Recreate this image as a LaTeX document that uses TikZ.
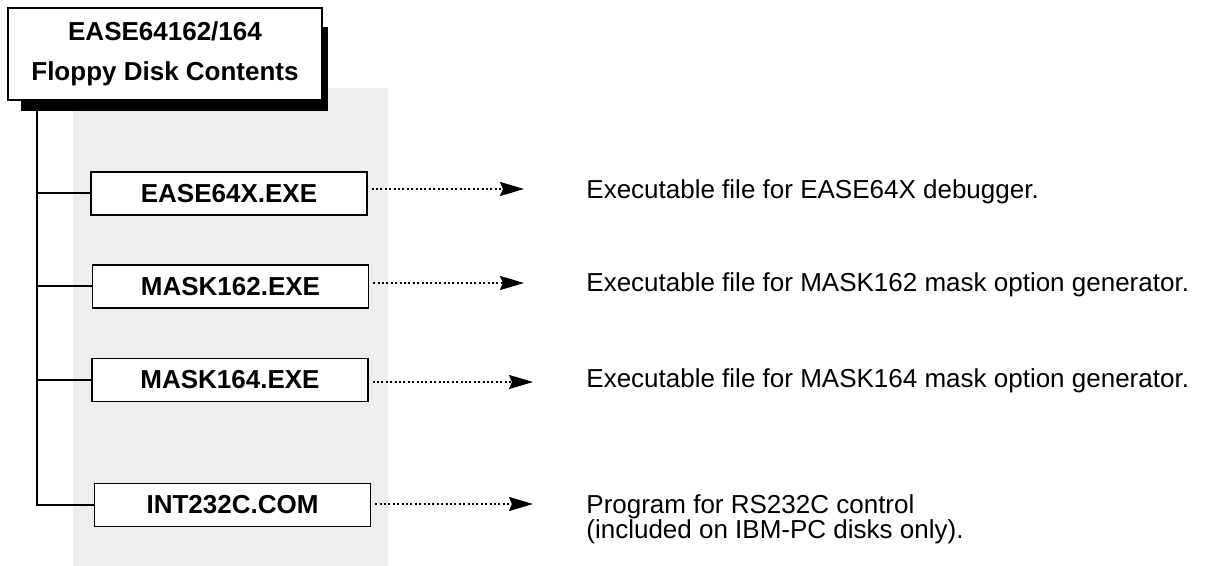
\documentclass[tikz,border=0pt]{standalone}
\usepackage{fontspec}
\setmainfont{Liberation Sans}
\usetikzlibrary{arrows.meta}
\definecolor{panelgray}{HTML}{EEEEEE}
\tikzset{
  filebox/.style={draw, line width=0.6pt, fill=white, minimum width=138pt,
    minimum height=21.5pt, inner sep=0pt, font=\fontsize{13}{15}\selectfont\bfseries},
  branch/.style={line width=1pt},
  filearrow/.style={line width=1pt, dash pattern=on 1pt off 1.2pt,
    -{Stealth[length=12pt,width=7pt,inset=1.5pt]}, shorten <=2pt},
  desc/.style={anchor=base west, inner sep=0pt, align=left,
    font=\fontsize{13}{12.5}\selectfont}
}

\begin{document}
\begin{tikzpicture}[x=0.5pt, y=-0.5pt]
\useasboundingbox (0,0) rectangle (1209,566);
\fill[panelgray] (73,88) rectangle (388,566);
\fill (21,27) rectangle (328,111);
\node[draw, line width=0.6pt, fill=white, minimum width=157pt, minimum height=46pt,
  align=center, font=\fontsize{13}{20}\selectfont\bfseries] (title) at (165,54)
  {EASE64162/164\\Floppy Disk Contents};
\coordinate (root) at (37,100);
\node[filebox] (ease) at (229,193.5) {EASE64X.EXE};
\node[filebox] (mask162) at (230.5,286.5) {MASK162.EXE};
\node[filebox] (mask164) at (230,380) {MASK164.EXE};
\node[filebox] (int232c) at (232.5,505) {INT232C.COM};
\draw[branch] (int232c.west) -| (root);
\foreach \file in {ease,mask162,mask164}
    \draw[branch] (\file.west) -- (\file.west -| root);
\coordinate (tipA) at (524,189);
\coordinate (tipB) at (524,283);
\coordinate (tipC) at (533,382);
\coordinate (tipD) at (533,504);
\foreach \file/\tip in {ease/tipA,mask162/tipB,mask164/tipC,int232c/tipD}
    \draw[filearrow] (\tip -| \file.east) -- (\tip);
\node[desc] (easetext) at (586,199) {Executable file for EASE64X debugger.};
\node[desc] (mask162text) at (586,292) {Executable file for MASK162 mask option generator.};
\node[desc] (mask164text) at (586,387) {Executable file for MASK164 mask option generator.};
\node[desc] (int232ctext) at (586,538) {Program for RS232C control\\(included on IBM-PC disks only).};
\end{tikzpicture}
\end{document}
